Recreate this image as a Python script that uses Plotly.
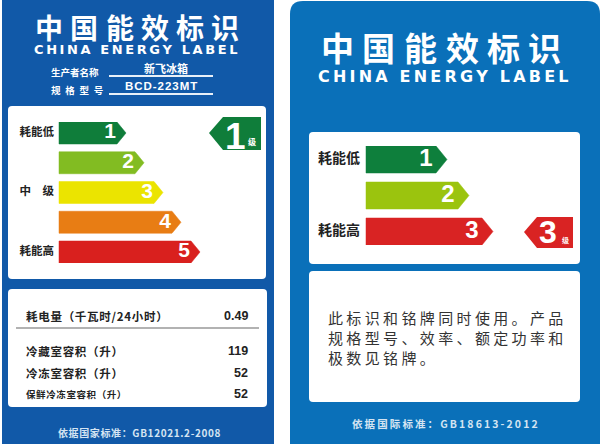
"""China energy label pair rebuilt as one Plotly figure."""

import plotly.graph_objects as go

# Left label
left_grades = [1, 2, 3, 4, 5]
left_lengths = [67, 85, 104, 122, 141]
left_colors = ["#0f7d3a", "#82bc22", "#ebe400", "#e87d14", "#d9201e"]
left_side_labels = ["耗能低", "中　级", "耗能高"]
left_side_grades = [1, 3, 5]
spec_names = ["生产者名称", "规格型号"]
spec_values = ["新飞冰箱", "BCD-223MT"]
row_names = ["冷藏室容积（升）", "冷冻室容积（升）", "保鲜冷冻室容积（升）"]
row_values = ["119", "52", "52"]
power_name = "耗电量（千瓦时/24小时）"
power_value = "0.49"
left_footer = "依据国家标准：GB12021.2-2008"

# Right label
right_grades = [1, 2, 3]
right_lengths = [81, 103, 127]
right_colors = ["#0e7f3c", "#9bc40e", "#d92323"]
right_side_labels = ["耗能低", "耗能高"]
right_side_grades = [1, 3]
note_lines = ["此标识和铭牌同时使用。产品", "规格型号、效率、额定功率和", "极数见铭牌。"]
right_footer = "依据国际标准：GB18613-2012"

title_chars = list("中国能效标识")
title_en = "CHINA ENERGY LABEL"

CJK = "Noto Sans CJK SC"
LATIN = "Liberation Sans"
WHITE = "#ffffff"
DARK = "#222222"
HAIR = "\u200a"
THIN = "\u2009"


def arrow(grade, length, half, tip):
    """Outline of one pointed bar."""
    xs = [0, length - tip, length, length - tip, 0, 0]
    ys = [grade - half, grade - half, grade, grade + half, grade + half, grade - half]
    return xs, ys


def spaced(text, gap=" "):
    return gap.join(text)


def rounded(x0, y0, x1, y1, r, bottom=True):
    """SVG path of a box with rounded corners."""
    rb = r if bottom else 0
    return (
        f"M{x0 + r},{y0} L{x1 - r},{y0} Q{x1},{y0} {x1},{y0 + r} "
        f"L{x1},{y1 - rb} Q{x1},{y1} {x1 - rb},{y1} L{x0 + rb},{y1} "
        f"Q{x0},{y1} {x0},{y1 - rb} L{x0},{y0 + r} Q{x0},{y0} {x0 + r},{y0} Z"
    )


fig = go.Figure()


def add_bars(grades, lengths, colors, half, tip, axes, offset, size):
    for g, l, c in zip(grades, lengths, colors):
        xs, ys = arrow(g, l, half, tip)
        fig.add_trace(
            go.Scatter(
                x=xs, y=ys, mode="lines", fill="toself", fillcolor=c,
                line=dict(color=c, width=0.5), hoverinfo="skip", showlegend=False,
                xaxis=axes[0], yaxis=axes[1],
            )
        )
    fig.add_trace(
        go.Scatter(
            x=[l - offset for l in lengths], y=grades, mode="text",
            text=[str(g) for g in grades],
            textfont=dict(family=LATIN, size=size, color=WHITE, weight="bold"),
            hoverinfo="skip", showlegend=False, xaxis=axes[0], yaxis=axes[1],
        )
    )


def add_side_labels(labels, grades, axes, x, size):
    fig.add_trace(
        go.Scatter(
            x=[x] * len(labels), y=grades, mode="text", text=labels,
            textposition="middle left",
            textfont=dict(family=CJK, size=size, color=DARK, weight="bold"),
            hoverinfo="skip", showlegend=False, xaxis=axes[0], yaxis=axes[1],
        )
    )


# invisible pixel axes carry the panels and the loose text
fig.add_trace(go.Scatter(x=[0, 600], y=[0, 444], mode="markers", marker=dict(opacity=0),
                         hoverinfo="skip", showlegend=False))

add_bars(left_grades, left_lengths, left_colors, 0.37, 9, ("x2", "y2"), 16, 21)
add_side_labels(left_side_labels, left_side_grades, ("x2", "y2"), -5, 11.5)
add_bars(right_grades, right_lengths, right_colors, 0.375, 11, ("x3", "y3"), 21, 24)
add_side_labels(right_side_labels, right_side_grades, ("x3", "y3"), -6, 14)

shapes = [
    dict(type="rect", x0=2, x1=274, y0=0, y1=444, fillcolor="#1159a8", line_width=0),
    dict(type="path", path=rounded(290, 1, 600, 460, 13), fillcolor="#0a70b9", line_width=0),
    dict(type="path", path=rounded(8, 106, 266, 279, 4), fillcolor=WHITE, line_width=0),
    dict(type="path", path=rounded(8, 289, 267, 407, 4), fillcolor=WHITE, line_width=0),
    dict(type="path", path=rounded(309, 132, 580, 264, 4), fillcolor=WHITE, line_width=0),
    dict(type="path", path=rounded(309, 271, 580, 402, 4), fillcolor=WHITE, line_width=0),
    # grade badges
    dict(type="path", path="M209,133 L223,117 L261,117 L261,150 L223,150 Z",
         fillcolor=left_colors[0], line_width=0),
    dict(type="path", path="M524,232 L537,217 L573,217 L573,248 L537,248 Z",
         fillcolor=right_colors[2], line_width=0),
    # spec underlines and the divider
    dict(type="line", x0=109, x1=213, y0=76, y1=76, line=dict(color="#e8f0f8", width=2)),
    dict(type="line", x0=109, x1=213, y0=94, y1=94, line=dict(color="#e8f0f8", width=2)),
    dict(type="line", x0=16, x1=259, y0=328, y1=328, line=dict(color="#999999", width=1.5)),
]

annotations = []


def put(x, y, text, size, color=DARK, family=CJK, bold=True, anchor="center"):
    annotations.append(
        dict(
            x=x, y=y, text=f"<b>{text}</b>" if bold else text, showarrow=False,
            xref="x", yref="y", xanchor=anchor, yanchor="middle",
            font=dict(family=family, size=size, color=color),
        )
    )


# titles
for ch, x in zip(title_chars, [49, 84, 120, 155, 190, 225]):
    put(x, 27, ch, 28, WHITE)
for ch, x in zip(title_chars, [337, 378, 420, 462, 503, 544]):
    put(x, 47, ch, 33, WHITE)
put(136, 49.5, spaced(title_en, THIN), 13, WHITE, "DejaVu Sans")
put(443, 76, spaced(title_en, THIN), 16, WHITE, "DejaVu Sans")

# manufacturer block
put(49, 72, spec_names[0], 9.5, WHITE, anchor="left")
put(49, 90, spaced(spec_names[1], "\u2002"), 9.5, WHITE, anchor="left")
put(166, 68, spec_values[0], 11, WHITE)
put(161, 86, spaced(spec_values[1], HAIR), 11.5, WHITE, LATIN)

# badges
put(235, 136, "1", 37, WHITE, LATIN)
put(252, 141, "级", 8, WHITE)
put(548, 232, "3", 32, WHITE, LATIN)
put(565, 240, "级", 7, WHITE)

# consumption table
put(24, 316, spaced(power_name, HAIR), 11.5, anchor="left")
put(250, 316, power_value, 12.5, family=LATIN, anchor="right")
for name, val, y, size in zip(row_names, row_values, [351, 373, 394], [11.5, 11.5, 9.5]):
    put(24, y, spaced(name, HAIR), size, anchor="left")
    put(250, y, val, 12.5, family=LATIN, anchor="right")
put(139, 432, spaced(left_footer, HAIR), 10, "#d4e4f2")

# note block
for line, y in zip(note_lines, [317, 337, 357]):
    put(326, y, spaced(line), 15, "#333333", bold=False, anchor="left")
put(445, 423, spaced(right_footer, THIN), 10.5, "#d4e4f2")

hidden = dict(visible=False, fixedrange=True)
fig.update_layout(
    width=600,
    height=444,
    margin=dict(l=0, r=0, t=0, b=0),
    paper_bgcolor=WHITE,
    plot_bgcolor="rgba(0,0,0,0)",
    showlegend=False,
    shapes=[dict(s, xref="x", yref="y", layer="below") for s in shapes],
    annotations=annotations,
    xaxis=dict(range=[0, 600], domain=[0, 1], **hidden),
    yaxis=dict(range=[444, 0], domain=[0, 1], **hidden),
    # left bars: x counts from the bar start, y is the grade
    xaxis2=dict(range=[-59, 207], domain=[0, 266 / 600], anchor="y2", **hidden),
    yaxis2=dict(range=[5.37, 0.63], domain=[1 - 263 / 444, 1 - 122 / 444], anchor="x2", **hidden),
    xaxis3=dict(range=[-57, 214], domain=[309 / 600, 580 / 600], anchor="y3", **hidden),
    yaxis3=dict(range=[3.375, 0.625], domain=[1 - 245 / 444, 1 - 146 / 444], anchor="x3", **hidden),
)

# the page's default body margin would push the picture off by 8px
fig.write_html(
    "out.html",
    config=dict(displayModeBar=False),
    post_script="document.body.style.margin='0';document.documentElement.style.overflow='hidden';",
)
